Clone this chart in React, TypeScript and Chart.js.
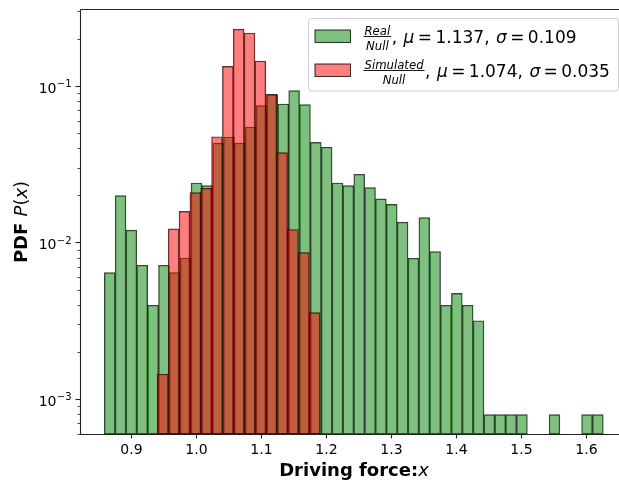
import React, { useEffect, useRef } from "react";
import { Chart, registerables } from "chart.js";

Chart.register(...registerables);

// Histogram bins (shared width); left edge of first bin for each series
const BIN_WIDTH = 1 / 60;
const REAL_BIN_START = 0.8594;
const SIM_BIN_START = 0.9409;

// PDF values, Real/Null (46 bins; 0 = empty bin)
const realPdf = [
  0.00641, 0.0199, 0.012, 0.00715, 0.00397, 0.00715, 0.00641, 0.00796, 0.024, 0.0231,
  0.0431, 0.0472, 0.0431, 0.0547, 0.0749, 0.088, 0.0767, 0.0933, 0.076, 0.0436,
  0.0407, 0.024, 0.0231, 0.0273, 0.0224, 0.019, 0.0175, 0.0135, 0.00793, 0.0144,
  0.00873, 0.00397, 0.00473, 0.00397, 0.00316, 0.000794, 0.000794, 0.000794, 0.000794, 0,
  0, 0.000794, 0, 0, 0.000794, 0.000794,
];

// PDF values, Simulated/Null (15 bins)
const simPdf = [
  0.00144, 0.0122, 0.0158, 0.0208, 0.0222, 0.0474, 0.1336, 0.231, 0.218, 0.1445,
  0.0885, 0.0375, 0.0121, 0.00861, 0.00356,
];

const xTicks = [0.9, 1.0, 1.1, 1.2, 1.3, 1.4, 1.5, 1.6];
const xTickLabels = ["0.9", "1.0", "1.1", "1.2", "1.3", "1.4", "1.5", "1.6"];
const yDecades = [-3, -2, -1];
const X_MIN = 0.8221;
const X_MAX = 1.6502;
const Y_MIN = 0.000597;
const Y_MAX = 0.3059;

const legendRows = [
  { num: "Real", den: "Null", mu: "1.137", sigma: "0.109", fill: "rgba(0,128,0,0.5)" },
  { num: "Simulated", den: "Null", mu: "1.074", sigma: "0.035", fill: "rgba(255,0,0,0.5)" },
];

const FONT = "'DejaVu Sans', 'Liberation Sans', sans-serif";

function toPoints(values: number[], start: number) {
  return values.map((v, i) => ({ x: start + (i + 0.5) * BIN_WIDTH, y: v > 0 ? v : null }));
}

const customPlugin = {
  id: "customDraw",
  afterDatasetsDraw(chart: any) {
    const ctx: CanvasRenderingContext2D = chart.ctx;
    const { left, right, top, bottom } = chart.chartArea;
    const xs = chart.scales.x;
    const ys = chart.scales.y;
    ctx.save();

    // spines
    ctx.strokeStyle = "#222";
    ctx.lineWidth = 1.1;
    ctx.beginPath();
    ctx.moveTo(left + 0.5, top - 0.5);
    ctx.lineTo(left + 0.5, bottom + 0.5);
    ctx.lineTo(right + 2, bottom + 0.5);
    ctx.moveTo(left + 0.5, top - 0.5);
    ctx.lineTo(right + 2, top - 0.5);
    ctx.stroke();

    // x ticks + labels
    ctx.fillStyle = "#000";
    ctx.font = `14px ${FONT}`;
    ctx.textAlign = "center";
    ctx.textBaseline = "alphabetic";
    xTicks.forEach((v, i) => {
      const px = Math.round(xs.getPixelForValue(v)) + 0.5;
      ctx.beginPath();
      ctx.moveTo(px, bottom);
      ctx.lineTo(px, bottom + 4.5);
      ctx.stroke();
      ctx.fillText(xTickLabels[i], px, bottom + 20);
    });

    // y ticks (major + minor) + labels
    for (let e = -4; e <= -1; e++) {
      for (let m = 1; m <= 9; m++) {
        const v = m * Math.pow(10, e);
        if (v < Y_MIN || v > Y_MAX) continue;
        const py = Math.round(ys.getPixelForValue(v)) + 0.5;
        const len = m === 1 ? 4.5 : 2.6;
        ctx.lineWidth = m === 1 ? 1.1 : 0.8;
        ctx.beginPath();
        ctx.moveTo(left, py);
        ctx.lineTo(left - len, py);
        ctx.stroke();
      }
    }
    yDecades.forEach((e) => {
      const py = ys.getPixelForValue(Math.pow(10, e));
      const sup = "\u2212" + String(-e);
      ctx.font = `10px ${FONT}`;
      const wSup = ctx.measureText(sup).width;
      ctx.textAlign = "left";
      const supX = 71.5 - wSup;
      ctx.fillText(sup, supX, py + 1.3);
      ctx.font = `14px ${FONT}`;
      ctx.textAlign = "right";
      ctx.fillText("10", supX - 0.3, py + 6.8);
    });

    // x title
    const t1 = "Driving force:";
    const t2 = "x";
    ctx.font = `bold 18px ${FONT}`;
    const w1 = ctx.measureText(t1).width;
    ctx.font = `italic 18px ${FONT}`;
    const w2 = ctx.measureText(t2).width;
    let sx = 354 - (w1 + w2) / 2;
    ctx.textAlign = "left";
    ctx.font = `bold 18px ${FONT}`;
    ctx.fillText(t1, sx, 476);
    ctx.font = `italic 18px ${FONT}`;
    ctx.fillText(t2, sx + w1, 476);

    // y title (rotated)
    ctx.save();
    ctx.translate(26.5, 222);
    ctx.rotate(-Math.PI / 2);
    const parts: [string, string][] = [
      ["PDF ", `bold 18px ${FONT}`],
      ["P", `italic 18px ${FONT}`],
      ["(", `18px ${FONT}`],
      ["x", `italic 18px ${FONT}`],
      [")", `18px ${FONT}`],
    ];
    let total = 0;
    const widths = parts.map(([s, f]) => {
      ctx.font = f;
      const w = ctx.measureText(s).width;
      total += w;
      return w;
    });
    let cx = -total / 2;
    parts.forEach(([s, f], i) => {
      ctx.font = f;
      ctx.fillText(s, cx, 0);
      cx += widths[i];
    });
    ctx.restore();

    // legend
    ctx.beginPath();
    ctx.roundRect(308.5, 18.5, 310, 72.5, 3);
    ctx.fillStyle = "rgba(255,255,255,0.8)";
    ctx.fill();
    ctx.strokeStyle = "#cccccc";
    ctx.lineWidth = 1;
    ctx.stroke();

    legendRows.forEach((row, i) => {
      const base = 43.3 + i * 34;
      // patch
      ctx.fillStyle = row.fill;
      ctx.fillRect(315, base - 13.3, 35.5, 12.5);
      ctx.strokeStyle = "rgba(0,0,0,0.75)";
      ctx.lineWidth = 1.1;
      ctx.strokeRect(315, base - 13.3, 35.5, 12.5);
      // fraction
      ctx.fillStyle = "#000";
      ctx.font = `italic 11.7px ${FONT}`;
      ctx.textAlign = "center";
      const wn = ctx.measureText(row.num).width;
      const wd = ctx.measureText(row.den).width;
      const fw = Math.max(wn, wd) + 2;
      const fx = 363.5;
      ctx.fillText(row.num, fx + fw / 2, base - 8.3);
      ctx.fillText(row.den, fx + fw / 2, base + 6.4);
      ctx.fillRect(fx, base - 7.2, fw, 0.9);
      // rest
      ctx.textAlign = "left";
      let x = fx + fw + 0.5;
      const seq: [string, string, number][] = [
        [",", `17px ${FONT}`, 6.5],
        ["\u03bc", `italic 17px ${FONT}`, 3.4],
        ["=", `17px ${FONT}`, 3.4],
        [row.mu + ",", `17px ${FONT}`, 6.5],
        ["\u03c3", `italic 17px ${FONT}`, 3.4],
        ["=", `17px ${FONT}`, 3.4],
        [row.sigma, `17px ${FONT}`, 0],
      ];
      seq.forEach(([s, f, gap]) => {
        ctx.font = f;
        ctx.fillText(s, x, base);
        x += ctx.measureText(s).width + gap;
      });
    });

    ctx.restore();
  },
};

export default function App() {
  const ref = useRef<HTMLCanvasElement | null>(null);

  useEffect(() => {
    if (!ref.current) return;
    const edge = "rgba(0,0,0,0.75)";
    const chart = new Chart(ref.current, {
      type: "bar",
      data: {
        datasets: [
          {
            label: "Real/Null",
            data: toPoints(realPdf, REAL_BIN_START) as any,
            backgroundColor: "rgba(0,128,0,0.5)",
            borderColor: edge,
            borderWidth: 0.75,
            borderSkipped: false,
            xAxisID: "x",
            order: 2,
          },
          {
            label: "Simulated/Null",
            data: toPoints(simPdf, SIM_BIN_START) as any,
            backgroundColor: "rgba(255,0,0,0.5)",
            borderColor: edge,
            borderWidth: 0.75,
            borderSkipped: false,
            xAxisID: "x2",
            order: 1,
          },
        ],
      },
      options: {
        responsive: false,
        animation: false,
        devicePixelRatio: 1,
        events: [],
        layout: { padding: { left: 80, top: 10, right: 0, bottom: 47 } },
        datasets: {
          bar: { grouped: false, barPercentage: 1, categoryPercentage: 1 },
        },
        scales: {
          x: { type: "linear", display: false, offset: false, min: X_MIN, max: X_MAX, ticks: { stepSize: 0.1 } },
          x2: { type: "linear", display: false, offset: false, min: X_MIN, max: X_MAX, ticks: { stepSize: 0.1 } },
          y: { type: "logarithmic", display: false, min: Y_MIN, max: Y_MAX },
        },
        plugins: {
          legend: { display: false },
          tooltip: { enabled: false },
          title: { display: false },
        },
      },
      plugins: [customPlugin],
    });
    return () => chart.destroy();
  }, []);

  return (
    <div style={{ position: "fixed", left: 0, top: 0, width: 619, height: 481, background: "#fff" }}>
      <canvas ref={ref} width={619} height={481} style={{ display: "block", width: 619, height: 481 }} />
    </div>
  );
}
